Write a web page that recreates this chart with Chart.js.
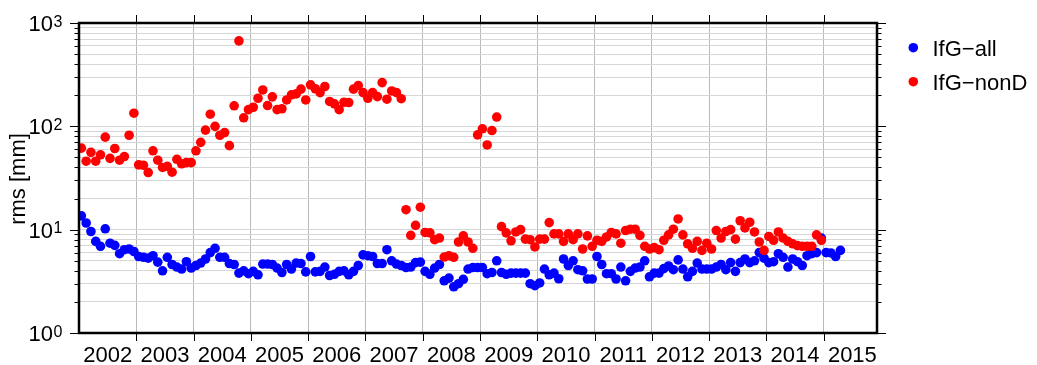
<!DOCTYPE html>
<html>
<head>
<meta charset="utf-8">
<title>IfG rms</title>
<script src="https://cdn.jsdelivr.net/npm/chart.js@4.4.1/dist/chart.umd.min.js"></script>
<style>
  html, body { margin: 0; padding: 0; background: #fff; }
</style>
</head>
<body>
<canvas id="rmsChart" width="1037" height="365"></canvas>
<script>
// monthly rms values [mm], first value is January 2002
const firstYear = 2002;
const lastYear = 2015.93;

const yearLabels = ['2002', '2003', '2004', '2005', '2006', '2007', '2008',
                    '2009', '2010', '2011', '2012', '2013', '2014', '2015'];
const decadeLabels = ['0', '1', '2', '3'];   // exponents of 10 on the y axis

const ifgAll = [
  13.6, 11.6, 9.6, 7.7, 6.9, 10.2, 7.4, 7.05, 5.85, 6.4, 6.5, 6.15,
  5.5, 5.4, 5.3, 5.6, 4.85, 4.0, 5.4, 4.6, 4.35, 4.16, 4.9, 4.25,
  4.5, 4.75, 5.2, 6.0, 6.6, 5.4, 5.4, 4.7, 4.6, 3.8, 4.0, 3.75,
  3.95, 3.66, 4.65, 4.65, 4.6, 4.25, 3.85, 4.6, 4.16, 4.75, 4.7, 3.9,
  5.5, 3.9, 3.95, 4.35, 3.6, 3.7, 3.95, 4.0, 3.66, 3.95, 4.5, 5.7,
  5.6, 5.5, 4.7, 4.7, 6.4, 5.0, 4.65, 4.5, 4.3, 4.35, 4.8, 4.85,
  3.95, 3.7, 4.25, 4.6, 3.2, 3.4, 2.8, 3.0, 3.3, 4.16, 4.3, 4.3,
  4.3, 3.75, 3.85, 5.0, 3.85, 3.7, 3.8, 3.8, 3.8, 3.8, 3.0, 2.87,
  3.05, 4.16, 3.66, 3.8, 3.35, 5.2, 4.5, 5.0, 4.1, 4.0, 3.33, 3.33,
  5.5, 4.6, 3.75, 3.75, 3.33, 4.35, 3.2, 3.95, 4.25, 4.35, 5.0, 3.5,
  3.8, 3.8, 4.2, 4.45, 4.1, 5.1, 4.16, 3.5, 3.95, 4.75, 4.16, 4.16,
  4.16, 4.35, 4.6, 4.1, 4.8, 3.95, 4.8, 5.2, 4.8, 5.0, 6.0, 5.3,
  4.8, 4.9, 5.85, 5.4, 4.35, 5.2, 4.9, 4.5, 5.6, 5.85, 6.0, 8.3,
  6.0, 5.95, 5.5, 6.3
];

const ifgNonD = [
  61.5, 46, 56, 46, 53, 78.6, 49, 61, 47, 51, 82, 134,
  42.4, 42, 35.7, 58, 47, 40, 41, 36, 48, 43.4, 44.5, 44.5,
  58, 70, 92, 131, 100, 82, 87, 65, 158, 671, 121, 145,
  153, 187, 225, 159, 193, 145, 148, 180, 202, 206, 229, 180,
  252, 231, 212, 243, 174, 165, 145, 171, 170, 229, 248, 212,
  187, 212, 194, 265, 183, 220, 212, 185, 15.6, 8.8, 11, 16.5,
  9.4, 9.3, 8.0, 8.3, 5.43, 5.6, 5.4, 7.6, 8.7, 7.6, 6.6, 82.7,
  94.6, 66, 91, 123, 10.7, 9.3, 7.8, 9.5, 10, 8.1, 8.0, 6.8,
  8.1, 8.1, 11.7, 9.1, 9.1, 7.7, 9.1, 8.0, 9.1, 6.5, 8.7, 6.9,
  7.9, 7.7, 8.5, 9.4, 9.1, 7.4, 9.8, 10.1, 10.1, 8.8, 6.9, 6.5,
  6.7, 6.4, 7.9, 8.9, 10.1, 12.7, 8.9, 7.3, 6.6, 7.7, 6.3, 7.4,
  6.5, 9.8, 8.3, 9.6, 10, 8.1, 12.2, 10.4, 11.8, 9.5, 7.6, 6.3,
  8.6, 7.9, 9.5, 8.3, 7.7, 7.3, 7.0, 6.9, 6.9, 6.9, 8.9, 7.9
];

const FONT = "'Liberation Sans', Helvetica, Arial, sans-serif";

function monthly(values) {
  return values.map((v, i) => ({ x: firstYear + (i + 0.5) / 12, y: v }));
}

// x ticks: year boundaries carry the grid, mid-year ticks carry the label
const xTicks = [];
yearLabels.forEach((lab, i) => {
  const yr = firstYear + i;
  if (i > 0) xTicks.push({ value: yr });
  xTicks.push({ value: yr + 0.5 });
});

// log ticks 1..9 in every decade
const yTicks = [];
decadeLabels.forEach((e, i) => {
  const base = Math.pow(10, Number(e));
  if (i < decadeLabels.length - 1) {
    for (let m = 1; m <= 9; m++) yTicks.push({ value: m * base });
  } else {
    yTicks.push({ value: base });
  }
});

const isPow10 = v => Math.abs(Math.log10(v) - Math.round(Math.log10(v))) < 1e-9;

const framePlugin = {
  id: 'frame',
  afterDraw(chart) {
    const { ctx, chartArea: a, scales } = chart;
    const x = scales.x, y = scales.y;
    ctx.save();

    // tick marks, outside the frame
    ctx.strokeStyle = '#000';
    ctx.lineWidth = 1;
    ctx.beginPath();
    yTicks.forEach(t => {
      const py = Math.round(y.getPixelForValue(t.value)) + 0.5;
      const len = isPow10(t.value) ? 9 : 4.5;
      ctx.moveTo(a.left, py); ctx.lineTo(a.left - len, py);
      ctx.moveTo(a.right, py); ctx.lineTo(a.right + len, py);
    });
    xTicks.filter(t => Number.isInteger(t.value)).forEach(t => {
      const px = Math.round(x.getPixelForValue(t.value)) + 0.5;
      ctx.moveTo(px, a.top); ctx.lineTo(px, a.top - 8);
      ctx.moveTo(px, a.bottom); ctx.lineTo(px, a.bottom + 8);
    });
    ctx.stroke();

    // frame
    ctx.lineWidth = 2.5;
    ctx.strokeRect(a.left, a.top, a.right - a.left, a.bottom - a.top);

    ctx.fillStyle = '#000';

    // year labels, centred in their interval
    ctx.font = '22px ' + FONT;
    ctx.textAlign = 'center';
    ctx.textBaseline = 'alphabetic';
    xTicks.filter(t => !Number.isInteger(t.value)).forEach(t => {
      const lab = yearLabels[Math.floor(t.value) - firstYear];
      ctx.fillText(lab, x.getPixelForValue(t.value), a.bottom + 28.5);
    });

    // 10^n labels
    decadeLabels.forEach(e => {
      const py = y.getPixelForValue(Math.pow(10, Number(e)));
      ctx.font = '22px ' + FONT;
      ctx.textAlign = 'right';
      ctx.fillText('10', 53, py + 8);
      ctx.font = '16px ' + FONT;
      ctx.textAlign = 'left';
      ctx.fillText(e, 53.5, py + 3.5);
    });

    // axis title
    ctx.save();
    ctx.translate(25, 179);
    ctx.rotate(-Math.PI / 2);
    ctx.font = '22px ' + FONT;
    ctx.textAlign = 'center';
    ctx.fillText('rms [mm]', 0, 0);
    ctx.restore();

    // legend
    ctx.font = '22px ' + FONT;
    ctx.textAlign = 'left';
    chart.data.datasets.forEach((ds, i) => {
      const cy = 47.7 + i * 34;
      ctx.fillStyle = ds.backgroundColor;
      ctx.beginPath();
      ctx.arc(913.3, cy, 4.8, 0, Math.PI * 2);
      ctx.fill();
      ctx.fillStyle = '#000';
      ctx.fillText(ds.label, 932.5, cy + 8);
    });

    ctx.restore();
  }
};

new Chart(document.getElementById('rmsChart').getContext('2d'), {
  type: 'scatter',
  data: {
    datasets: [
      {
        label: 'IfG\u2212all',
        data: monthly(ifgAll),
        backgroundColor: '#0000ff',
        borderWidth: 0,
        pointRadius: 4.8,
        order: 2
      },
      {
        label: 'IfG\u2212nonD',
        data: monthly(ifgNonD),
        backgroundColor: '#ff0000',
        borderWidth: 0,
        pointRadius: 4.8,
        order: 1
      }
    ]
  },
  options: {
    responsive: false,
    animation: false,
    devicePixelRatio: 1,
    events: [],
    layout: { padding: { left: 0, top: 23, right: 160, bottom: 0 } },
    plugins: { legend: { display: false }, tooltip: { enabled: false } },
    scales: {
      x: {
        type: 'linear',
        min: firstYear,
        max: lastYear,
        afterBuildTicks: s => { s.ticks = xTicks.map(t => ({ value: t.value })); },
        afterFit: s => { s.height = 32; },
        ticks: { display: false },
        border: { display: false },
        grid: {
          drawTicks: false,
          lineWidth: 1,
          color: c => (c.tick && Number.isInteger(c.tick.value)) ? '#b9b9b9' : 'rgba(0,0,0,0)'
        }
      },
      y: {
        type: 'logarithmic',
        min: 1,
        max: 1000,
        afterBuildTicks: s => { s.ticks = yTicks.map(t => ({ value: t.value })); },
        afterFit: s => { s.width = 79; },
        ticks: { display: false },
        border: { display: false },
        grid: { drawTicks: false, lineWidth: 1, color: '#d6d6d6' }
      }
    }
  },
  plugins: [framePlugin]
});
</script>
</body>
</html>
